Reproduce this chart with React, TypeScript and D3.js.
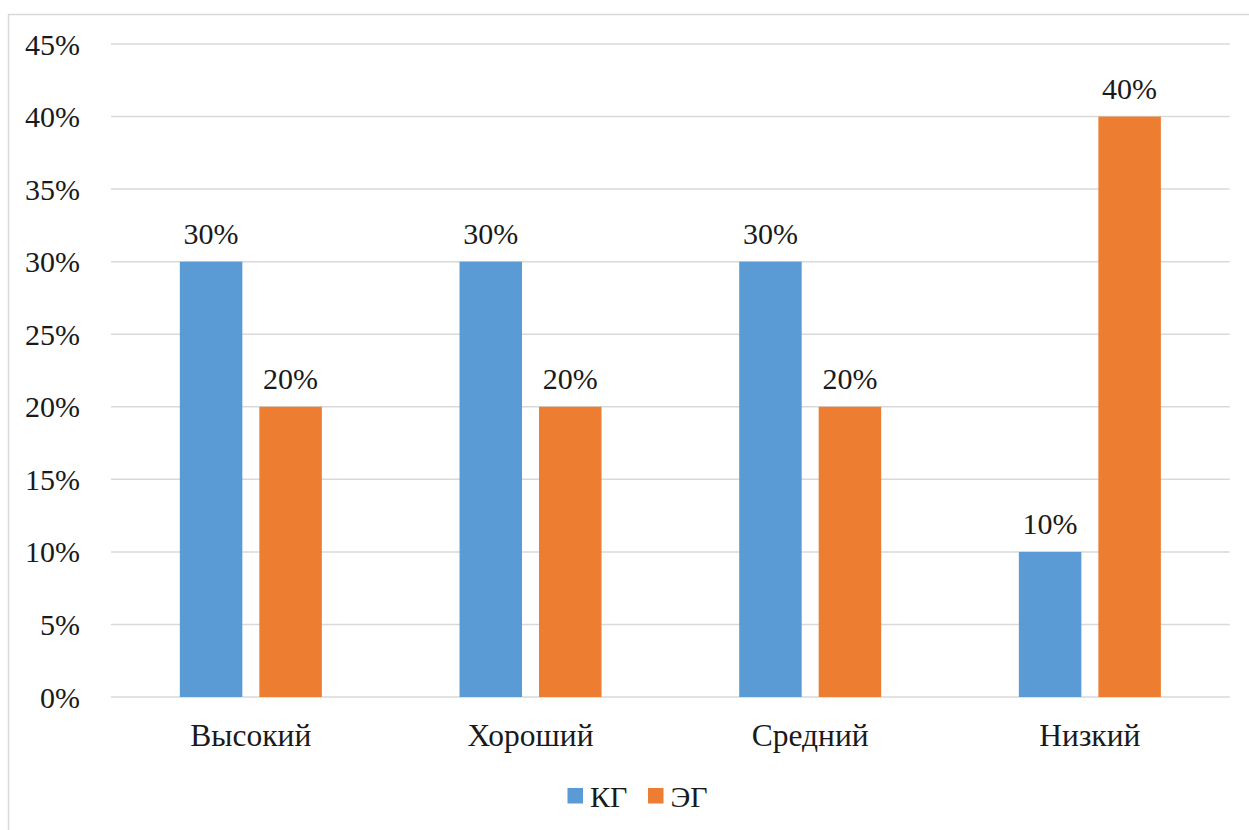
import React from "react";
import * as d3 from "d3";

const categories = ["Высокий", "Хороший", "Средний", "Низкий"];
const seriesNames = ["КГ", "ЭГ"];
const kgValues = [30, 30, 30, 10];
const egValues = [20, 20, 20, 40];
const yTicks = [0, 5, 10, 15, 20, 25, 30, 35, 40, 45];
const colors = ["#5B9BD5", "#ED7D31"];

const W = 1249;
const H = 830;
const FAMILY = "Liberation Serif, Times New Roman, serif";
const textStyle: React.CSSProperties = { fontFamily: FAMILY, fontSize: "30px" };
const catStyle: React.CSSProperties = { fontFamily: FAMILY, fontSize: "31.5px" };

export default function App() {
  const left = 111;
  const right = 1229.7;
  const top = 44;
  const bottom = 697;

  const x = d3.scaleBand<string>().domain(categories).range([left, right]).paddingInner(0).paddingOuter(0);
  const y = d3.scaleLinear().domain([0, 45]).range([bottom, top]);
  const barW = 62.5;
  const gap = 17;
  const groupW = barW * 2 + gap;
  const sub = d3.scaleOrdinal<number, number>().domain([0, 1]).range([0, barW + gap]);

  const series = [kgValues, egValues];

  return (
    <svg width={W} height={H} style={{ position: "absolute", left: 0, top: 0, background: "#fff" }}>
      <rect x={0} y={0} width={W} height={H} fill="#fff" />
      <rect x={8.5} y={14.5} width={W + 20} height={H + 20} fill="none" stroke="#D9D9D9" strokeWidth={1.5} />
      {yTicks.map((t) => (
        <g key={t}>
          <line x1={left} x2={right} y1={y(t)} y2={y(t)} stroke="#D9D9D9" strokeWidth={1.5} />
          <text x={80} y={y(t)} dy="0.35em" textAnchor="end" style={textStyle} fill="#1a1a1a">
            {t}%
          </text>
        </g>
      ))}
      {categories.map((c, i) => {
        const cx = (x(c) as number) + x.bandwidth() / 2;
        const gx = cx - groupW / 2;
        return (
          <g key={c}>
            {series.map((vals, s) => {
              const bx = gx + sub(s);
              const v = vals[i];
              return (
                <g key={s}>
                  <rect x={bx} y={y(v)} width={barW} height={y(0) - y(v)} fill={colors[s]} />
                  <text x={bx + barW / 2} y={y(v) - 18} textAnchor="middle" style={textStyle} fill="#1a1a1a">
                    {v}%
                  </text>
                </g>
              );
            })}
            <text x={cx} y={746} textAnchor="middle" style={catStyle} fill="#1a1a1a">
              {c}
            </text>
          </g>
        );
      })}
      {seriesNames.map((n, s) => {
        const lx = 567.5 + s * 80.5;
        return (
          <g key={n}>
            <rect x={lx} y={788} width={15.5} height={15.5} fill={colors[s]} />
            <text x={lx + 22.5} y={807} style={textStyle} fill="#1a1a1a">
              {n}
            </text>
          </g>
        );
      })}
    </svg>
  );
}
